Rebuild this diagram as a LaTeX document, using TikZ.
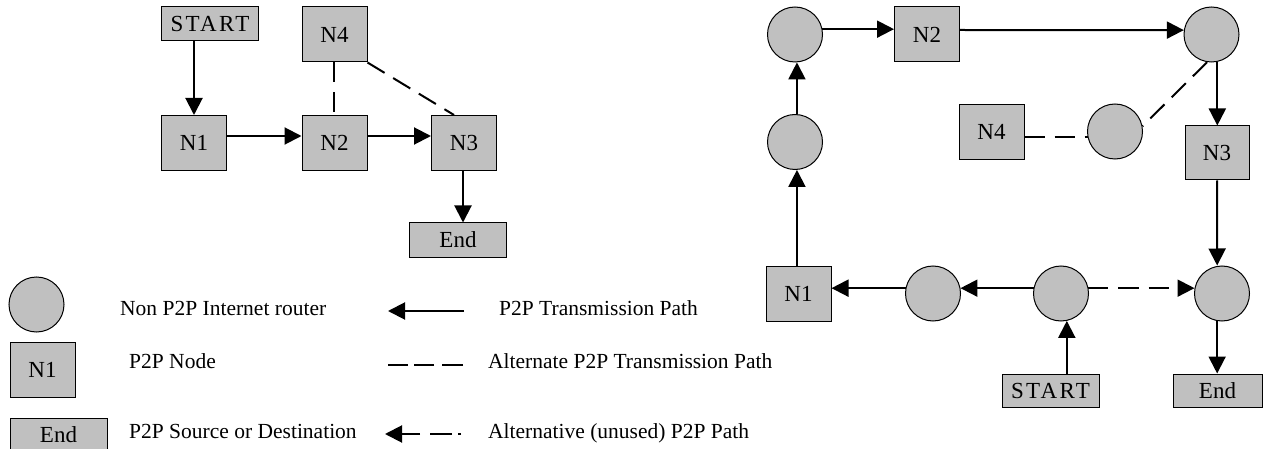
\documentclass[tikz,border=0pt]{standalone}
\usepackage{fontspec}
\setmainfont{Liberation Serif}
\newfontfamily\spacedfont[LetterSpace=10]{Liberation Serif}
\usetikzlibrary{arrows.meta}
\definecolor{boxgray}{HTML}{C0C0C0}
\tikzset{
  nodefont/.style={font=\fontsize{23}{26}\selectfont},
  legendfont/.style={font=\fontsize{21.5}{24}\selectfont},
  peer/.style={draw=black, line width=1pt, fill=boxgray, inner sep=0pt,
    minimum width=65pt, minimum height=55pt, nodefont},
  endpoint/.style={peer, minimum width=97pt, minimum height=34pt},
  router/.style={circle, draw=black, line width=1pt, fill=boxgray,
    inner sep=0pt, minimum size=55pt},
  tip/.style={-{Triangle[length=17pt,width=17pt]}},
  p2p/.style={line width=2pt, tip},
  altpath/.style={line width=2pt, dash pattern=on 20pt off 10pt},
  unused/.style={line width=2pt, dash pattern=on 20pt off 10pt, tip},
  legendtext/.style={anchor=base west, inner sep=0pt, legendfont}
}
\begin{document}
\begin{tikzpicture}[x=1pt, y=-1pt]
\clip (0,0) rectangle (1266,449);

% ---- overlay network: direct P2P route ----
\node[endpoint] (lstart) at (210,24) {\spacedfont START};
\node[peer] (ln4) at (334.5,34.5) {N4};
\node[peer] (ln1) at (194,143) {N1};
\node[peer] (ln2) at (334.5,143) {N2};
\node[peer] (ln3) at (464,143) {N3};
\node[endpoint] (lend) at (458,240) {End};

\draw[p2p] (lstart.south -| ln1) -- (ln1.north);
\draw[p2p] ([yshift=7pt]ln1.east) -- ([yshift=7pt]ln2.west);
\draw[p2p] ([yshift=7pt]ln2.east) -- ([yshift=7pt]ln3.west);
\draw[p2p] ([xshift=-1pt]ln3.south) -- ([xshift=-1pt]ln3.south |- lend.north);
\draw[altpath] ([xshift=-1pt]ln4.south) -- ([xshift=-1pt]ln2.north);
\draw[altpath] (ln4.south east) -- ([xshift=-10pt]ln3.north);

% ---- underlying Internet: routers between peers ----
\node[router] (r1) at (795,34.5) {};
\node[peer] (rn2) at (927,34.5) {N2};
\node[router] (r2) at (1211.5,34.5) {};
\node[router] (r3) at (795,142) {};
\node[peer] (rn4) at (991.5,132) {N4};
\node[router] (r4) at (1115,131.5) {};
\node[peer, minimum width=64pt, minimum height=54pt] (rn3) at (1217,153) {N3};
\node[peer] (rn1) at (798.5,293.5) {N1};
\node[router] (r5) at (933,293.5) {};
\node[router] (r6) at (1061,293.5) {};
\node[router] (r7) at (1222,293.5) {};
\node[endpoint, minimum height=33pt] (rstart) at (1050.5,390.5) {\spacedfont START};
\node[endpoint, minimum width=89pt, minimum height=33pt] (rend) at (1217.5,390.5) {End};

\draw[p2p] (rstart.north -| r6.-78) -- (r6.-78);
\draw[p2p] (r6.169) -- (r5.11);
\draw[p2p] (r5.169) -- (r5.169 -| rn1.east);
\draw[p2p] (rn1.north -| r3.-86) -- (r3.-86);
\draw[p2p] (r3.86) -- (r1.-86);
\draw[p2p] (r1.11) -- (r1.11 -| rn2.west);
\draw[p2p] ([yshift=4.5pt]rn2.east) -- (r2.171);
\draw[p2p] (r2.-78) -- (r2.-78 |- rn3.north);
\draw[p2p] (rn3.south) -- (r7.-100 |- r7.north);
\draw[p2p] (r7.-100) -- (r7.-100 |- rend.north);
\draw[unused] (r6.11) -- (r7.169);
\draw[altpath] (r4.191 -| rn4.east) -- (r4.191);
\draw[altpath] (r2.-99) -- (r4.11);

% ---- legend ----
\node[router] (kr) at (36.5,304.5) {};
\node[peer] (kn) at (42.5,370) {N1};
\node[endpoint] (ke) at (58.5,435) {End};
\node[legendtext] (krt) at (120,315) {Non P2P Internet router};
\node[legendtext] (knt) at (129,368) {P2P Node};
\node[legendtext] (ket) at (129,438) {P2P Source or Destination};

\coordinate (ka1) at (464,311);
\coordinate (kb1) at (388,311);
\coordinate (ka2) at (463,365);
\coordinate (kb2) at (388,365);
\coordinate (ka3) at (461,434);
\coordinate (kb3) at (385,434);
\draw[p2p] (ka1) -- (kb1);
\draw[line width=2pt, dash pattern=on 21pt off 8pt on 20pt off 6pt on 20pt off 20pt] (ka2) -- (kb2);
\draw[line width=2pt, dash pattern=on 3pt off 6pt on 22pt off 10pt on 60pt off 10pt, tip]
  (ka3) -- (kb3);
\node[legendtext] (kat) at (499,315) {P2P Transmission Path};
\node[legendtext] (kbt) at (488,368) {Alternate P2P Transmission Path};
\node[legendtext] (kct) at (488,438) {Alternative (unused) P2P Path};
\end{tikzpicture}
\end{document}
